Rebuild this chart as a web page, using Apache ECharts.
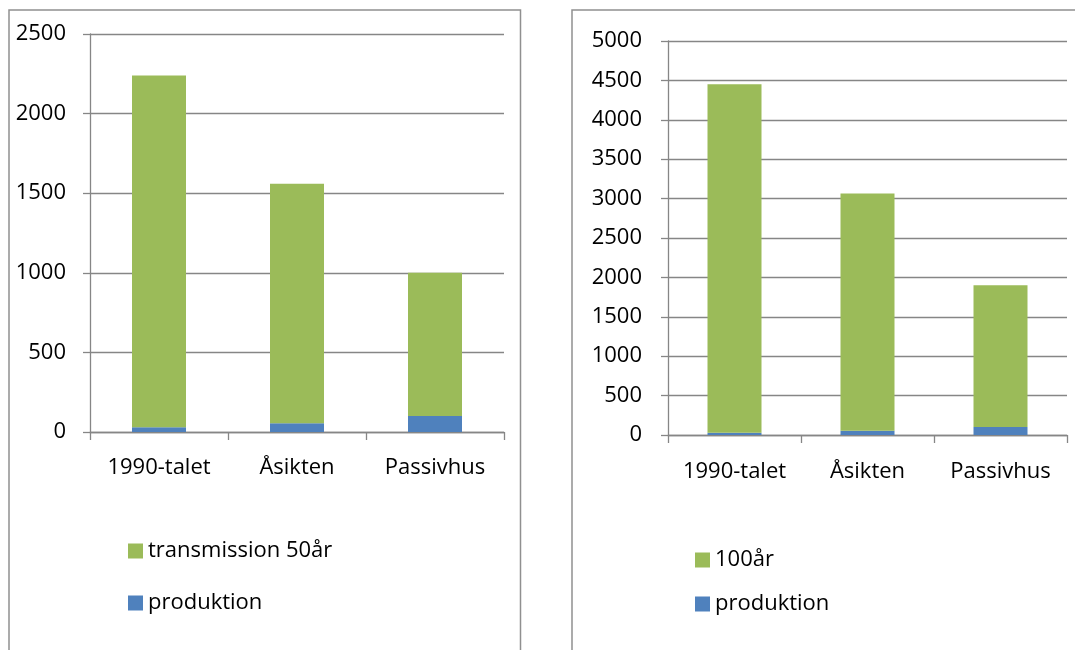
<!DOCTYPE html>
<html>
<head>
<meta charset="utf-8">
<script src="https://cdn.jsdelivr.net/npm/echarts@6/dist/echarts.min.js"></script>
<style>
html,body{margin:0;padding:0;background:#fff;}
#c{width:1075px;height:650px;}
</style>
</head>
<body>
<div id="c"></div>
<script>
var categories = ['1990-talet', 'Åsikten', 'Passivhus'];
var produktion = [30, 55, 100];
var transmission50 = [2210, 1505, 900];
var ar100 = [4420, 3010, 1800];
var leftTicks = {min: 0, max: 2500, interval: 500};
var rightTicks = {min: 0, max: 5000, interval: 500};

var GREEN = '#9BBB59', BLUE = '#4F81BD', GRID = '#868686';
var FONT = 'Open Sans';

function xAx(gi, m) {
  return {
    type: 'category', gridIndex: gi, data: categories,
    axisLine: {lineStyle: {color: GRID, width: 1.3}},
    axisTick: {show: true, length: 8, lineStyle: {color: GRID, width: 1.3}},
    axisLabel: {color: '#000', fontSize: 22, fontFamily: FONT, margin: m, interval: 0}
  };
}
function yAx(gi, t, m) {
  return {
    type: 'value', gridIndex: gi, min: t.min, max: t.max, interval: t.interval,
    axisLine: {show: true, lineStyle: {color: GRID, width: 1.3}},
    axisTick: {show: true, length: 7, lineStyle: {color: GRID, width: 1.3}},
    splitLine: {lineStyle: {color: GRID, width: 1.3}},
    axisLabel: {color: '#000', fontSize: 22, fontFamily: FONT, margin: m,
      formatter: function (v) { return String(v); }}
  };
}

var chart = echarts.init(document.getElementById('c'));
chart.setOption({
  animation: false,
  graphic: [
    {type: 'rect', shape: {x: 9, y: 10, width: 511.5, height: 660}, style: {fill: 'none', stroke: '#909090', lineWidth: 1.5}, z: -1},
    {type: 'rect', shape: {x: 572, y: 10, width: 520, height: 660}, style: {fill: 'none', stroke: '#909090', lineWidth: 1.5}, z: -1}
  ],
  grid: [
    {left: 90, right: 571, top: 34, bottom: 218},
    {left: 668, right: 8, top: 41, bottom: 215}
  ],
  xAxis: [xAx(0, 25), xAx(1, 26)],
  yAxis: [yAx(0, leftTicks, 24), yAx(1, rightTicks, 26)],
  legend: [
    {
      orient: 'vertical', left: 128, top: 540, padding: 0, itemWidth: 15, itemHeight: 15, itemGap: 30,
      icon: 'rect', data: ['transmission 50år', 'produktion'],
      textStyle: {color: '#000', fontSize: 22, fontFamily: FONT}
    },
    {
      orient: 'vertical', left: 695, top: 549, padding: 0, itemWidth: 15, itemHeight: 15, itemGap: 22,
      icon: 'rect', data: ['100år', {name: 'produktion '}],
      textStyle: {color: '#000', fontSize: 22, fontFamily: FONT}
    }
  ],
  series: [
    {name: 'produktion', type: 'bar', stack: 'a', xAxisIndex: 0, yAxisIndex: 0, data: produktion, barWidth: 54, itemStyle: {color: BLUE}},
    {name: 'transmission 50år', type: 'bar', stack: 'a', xAxisIndex: 0, yAxisIndex: 0, data: transmission50, barWidth: 54, itemStyle: {color: GREEN}},
    {name: 'produktion ', type: 'bar', stack: 'b', xAxisIndex: 1, yAxisIndex: 1, data: produktion, barWidth: 54, itemStyle: {color: BLUE}},
    {name: '100år', type: 'bar', stack: 'b', xAxisIndex: 1, yAxisIndex: 1, data: ar100, barWidth: 54, itemStyle: {color: GREEN}}
  ]
});
</script>
</body>
</html>
